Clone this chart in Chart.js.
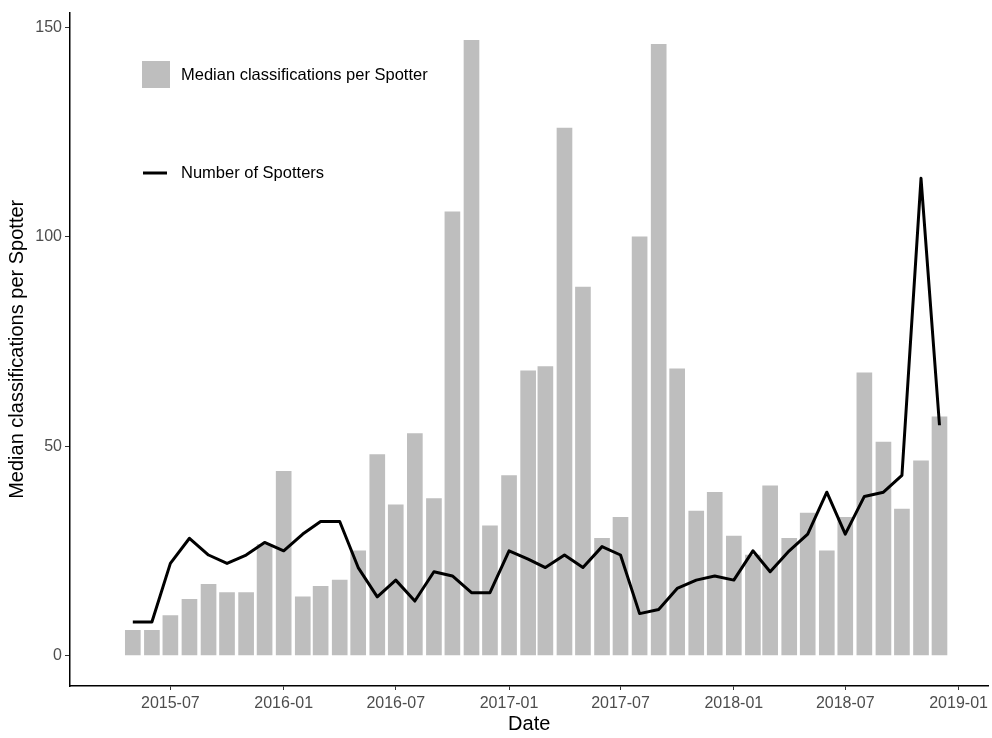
<!DOCTYPE html>
<html>
<head>
<meta charset="utf-8">
<style>
  html, body { margin: 0; padding: 0; background: #fff; }
  #wrap { width: 992px; height: 738px; }
</style>
<script src="https://cdn.jsdelivr.net/npm/chart.js@4.4.1/dist/chart.umd.min.js"></script>
</head>
<body>
<div id="wrap"><canvas id="chart" width="992" height="738"></canvas></div>
<script>
// months (first of each month)
const months = [
  '2015-05', '2015-06', '2015-07', '2015-08', '2015-09', '2015-10', '2015-11', '2015-12',
  '2016-01', '2016-02', '2016-03', '2016-04', '2016-05', '2016-06', '2016-07', '2016-08',
  '2016-09', '2016-10', '2016-11', '2016-12', '2017-01', '2017-02', '2017-03', '2017-04',
  '2017-05', '2017-06', '2017-07', '2017-08', '2017-09', '2017-10', '2017-11', '2017-12',
  '2018-01', '2018-02', '2018-03', '2018-04', '2018-05', '2018-06', '2018-07', '2018-08',
  '2018-09', '2018-10', '2018-11', '2018-12'
];
const medianClassifications = [
  6, 6, 9.5, 13.4, 17, 15, 15, 26.5,
  44, 14, 16.5, 18, 25, 48, 36, 53,
  37.5, 106, 147, 31, 43, 68, 69, 126,
  88, 28, 33, 100, 146, 68.5, 34.5, 39,
  28.5, 24, 40.5, 28, 34, 25, 33, 67.5,
  51, 35, 46.5, 57
];
const numberOfSpotters = [
  8, 8, 22, 28, 24, 22, 24, 27,
  25, 29, 32, 32, 21, 14, 18, 13,
  20, 19, 15, 15, 25, 23, 21, 24,
  21, 26, 24, 10, 11, 16, 18, 19,
  18, 25, 20, 25, 29, 39, 29, 38,
  39, 43, 114, 55
];
const xTickLabels = ['2015-07', '2016-01', '2016-07', '2017-01', '2017-07', '2018-01', '2018-07', '2019-01'];
const yTickValues = [0, 50, 100, 150];

// 'YYYY-MM' -> day number
function toDay(s) {
  const p = s.split('-').map(Number);
  return Date.UTC(p[0], p[1] - 1, 1) / 86400000;
}
function dayLabel(v) {
  const d = new Date(v * 86400000);
  return d.getUTCFullYear() + '-' + String(d.getUTCMonth() + 1).padStart(2, '0');
}

const barColor = '#bebebe';
const lineColor = '#000000';

// legend drawn inside the panel, ggplot style
const insideLegend = {
  id: 'insideLegend',
  afterDraw(chart) {
    const ctx = chart.ctx;
    ctx.save();
    ctx.font = '16.5px "Liberation Sans", Arial, sans-serif';
    ctx.fillStyle = '#000';
    ctx.textBaseline = 'middle';
    ctx.textAlign = 'left';
    // bars key
    ctx.fillStyle = chart.data.datasets[1].backgroundColor;
    ctx.fillRect(142, 61, 28, 27);
    ctx.fillStyle = '#000';
    ctx.fillText(chart.data.datasets[1].label, 181, 75);
    // line key
    ctx.strokeStyle = chart.data.datasets[0].borderColor;
    ctx.lineWidth = 3;
    ctx.beginPath();
    ctx.moveTo(143, 173);
    ctx.lineTo(167, 173);
    ctx.stroke();
    ctx.fillText(chart.data.datasets[0].label, 181, 173);
    ctx.restore();
  }
};

const ctx = document.getElementById('chart').getContext('2d');
new Chart(ctx, {
  type: 'bar',
  data: {
    datasets: [
      {
        type: 'line',
        label: 'Number of Spotters',
        data: months.map((m, i) => ({ x: toDay(m), y: numberOfSpotters[i] })),
        borderColor: lineColor,
        borderWidth: 3,
        borderJoinStyle: 'round',
        pointRadius: 0,
        tension: 0,
        fill: false,
        order: 0
      },
      {
        type: 'bar',
        label: 'Median classifications per Spotter',
        data: months.map((m, i) => ({ x: toDay(m), y: medianClassifications[i] })),
        backgroundColor: barColor,
        barThickness: 15,
        order: 1
      }
    ]
  },
  options: {
    responsive: false,
    animation: false,
    devicePixelRatio: 1,
    layout: { padding: { top: 3, right: 2, left: 0, bottom: 0 } },
    plugins: {
      legend: { display: false },
      tooltip: { enabled: false }
    },
    scales: {
      x: {
        type: 'linear',
        offset: false,
        min: toDay(months[0]) - 102,
        max: toDay(months[months.length - 1]) + 79.5,
        afterBuildTicks: scale => {
          scale.ticks = xTickLabels.map(l => ({ value: toDay(l) }));
        },
        afterFit: scale => { scale.height = 52; },
        ticks: {
          callback: v => dayLabel(v),
          color: '#4d4d4d',
          font: { family: '"Liberation Sans", Arial, sans-serif', size: 16 },
          padding: 4,
          maxRotation: 0,
          autoSkip: false
        },
        grid: { offset: false, drawOnChartArea: false, drawTicks: true, tickLength: 4, color: '#333333' },
        border: { display: true, color: '#000000', width: 1.5 },
        title: {
          display: true,
          text: 'Date',
          color: '#000',
          font: { family: '"Liberation Sans", Arial, sans-serif', size: 20 },
          padding: { top: 0, bottom: 2 }
        }
      },
      y: {
        type: 'linear',
        min: -7.3,
        max: 153.6,
        afterBuildTicks: scale => {
          scale.ticks = yTickValues.map(v => ({ value: v }));
        },
        afterFit: scale => { scale.width = 70; },
        ticks: {
          color: '#4d4d4d',
          font: { family: '"Liberation Sans", Arial, sans-serif', size: 16 },
          padding: 3
        },
        grid: { drawOnChartArea: false, drawTicks: true, tickLength: 5, color: '#333333' },
        border: { display: true, color: '#000000', width: 1.5 },
        title: {
          display: true,
          text: 'Median classifications per Spotter',
          color: '#000',
          font: { family: '"Liberation Sans", Arial, sans-serif', size: 20 },
          padding: { top: 5, bottom: 0 }
        }
      }
    }
  },
  plugins: [insideLegend]
});
</script>
</body>
</html>
